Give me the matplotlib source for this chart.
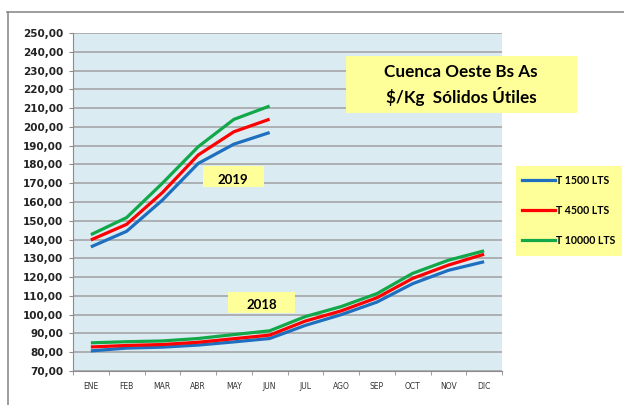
import matplotlib
matplotlib.use("Agg")
import matplotlib.pyplot as plt
import numpy as np
from matplotlib.lines import Line2D
from matplotlib.patches import Rectangle
from matplotlib.ticker import FixedLocator, FuncFormatter

MONTHS = ["ENE", "FEB", "MAR", "ABR", "MAY", "JUN",
          "JUL", "AGO", "SEP", "OCT", "NOV", "DIC"]

# 2018, full year
T1500_2018 = [80.7, 82.2, 82.7, 83.8, 85.5, 87.3, 94.3, 100.0, 106.7, 116.5, 123.6, 128.2]
T4500_2018 = [82.8, 83.6, 84.1, 85.3, 87.2, 89.1, 96.6, 102.0, 109.0, 119.3, 126.4, 132.2]
T10000_2018 = [85.0, 85.6, 86.0, 87.3, 89.4, 91.4, 99.0, 104.3, 111.2, 122.0, 129.0, 134.0]

# 2019, January-June
T1500_2019 = [136.1, 144.4, 161.0, 180.5, 190.8, 197.0]
T4500_2019 = [139.8, 148.1, 165.0, 185.0, 197.4, 204.1]
T10000_2019 = [142.6, 151.7, 170.0, 189.4, 204.0, 211.1]

LABELS = ["T 1500 LTS", "T 4500 LTS", "T 10000 LTS"]
COLORS = ["#1F6FC0", "#FF0000", "#12A84A"]
YELLOW = "#FFFF99"

W, H = 624, 405
fig = plt.figure(figsize=(W / 100, H / 100), dpi=100)


def px_box(x0, y0, x1, y1):
    # yellow label box given in pixel coords (top-left origin)
    fig.add_artist(Rectangle((x0 / W, 1 - y1 / H), (x1 - x0) / W, (y1 - y0) / H,
                             transform=fig.transFigure, fc=YELLOW, ec="none", zorder=5))


# outer chart frame (top + left visible)
fig.add_artist(Line2D([7 / W, 1], [1 - 11.5 / H] * 2, color="#8C8C8C", lw=1.2))
fig.add_artist(Line2D([7.5 / W] * 2, [0, 1 - 11.5 / H], color="#8C8C8C", lw=1.2))

ax = fig.add_axes([73 / W, 1 - 371 / H, (502 - 73) / W, (371 - 33) / H])
ax.set_facecolor("#DAEBF2")

x = np.arange(len(MONTHS))
series_2018 = [T1500_2018, T4500_2018, T10000_2018]
series_2019 = [T1500_2019, T4500_2019, T10000_2019]
for vals, c in zip(series_2018, COLORS):
    ax.plot(x, vals, color=c, lw=2.3, solid_capstyle="butt", zorder=3)
for vals, c in zip(series_2019, COLORS):
    ax.plot(x[:len(vals)], vals, color=c, lw=2.3, solid_capstyle="butt", zorder=3)

ax.set_xlim(-0.5, len(MONTHS) - 0.5)
ax.set_ylim(70, 250)
ax.set_yticks(np.arange(70, 251, 10))
ax.yaxis.set_major_formatter(FuncFormatter(lambda v, p: f"{v:.2f}".replace(".", ",")))
ax.grid(axis="y", color="#A0A0A0", lw=1.1, zorder=1)
ax.set_axisbelow(True)

ax.set_xticks(x)
ax.set_xticklabels(MONTHS)
ax.xaxis.set_minor_locator(FixedLocator(np.arange(-0.5, len(MONTHS), 1)))
ax.tick_params(axis="x", which="major", length=0, labelsize=5.5, pad=8, colors="#333333")
ax.tick_params(axis="x", which="minor", length=3, color="#8C8C8C", direction="out")
ax.tick_params(axis="y", length=3, color="#8C8C8C", labelsize=7.5, pad=4)
for lab in ax.get_yticklabels():
    lab.set_fontweight("bold")
    lab.set_color("#222222")

for s in ["top", "right"]:
    ax.spines[s].set_visible(False)
for s in ["left", "bottom"]:
    ax.spines[s].set_color("#8C8C8C")

# title box
px_box(346, 56, 577, 113)
fig.text(461 / W, 1 - 85 / H, "Cuenca Oeste Bs As\n$/Kg  Sólidos Útiles",
         ha="center", va="center", fontsize=12.3, fontweight="bold", family="Lato",
         linespacing=1.4, zorder=6)

# year labels
px_box(203, 166, 264, 187)
fig.text(233 / W, 1 - 180 / H, "2019", ha="center", va="center", fontsize=9.5,
         fontweight="bold", family="Lato", zorder=6)
px_box(228, 292, 295, 313)
fig.text(262 / W, 1 - 305 / H, "2018", ha="center", va="center", fontsize=9.5,
         fontweight="bold", family="Lato", zorder=6)

# legend
px_box(516, 166, 622, 256)
handles = [Line2D([], [], color=c, lw=2.3) for c in COLORS]
leg = fig.legend(handles, LABELS, loc="upper left",
                 bbox_to_anchor=(522 / W, 1 - 175 / H),
                 frameon=False, handlelength=3.1, handletextpad=0.1,
                 labelspacing=1.8, borderpad=0, borderaxespad=0,
                 prop=dict(size=7.6, weight="bold", family="Lato"))
leg.set_zorder(6)

fig.savefig("out.png", dpi=100)
